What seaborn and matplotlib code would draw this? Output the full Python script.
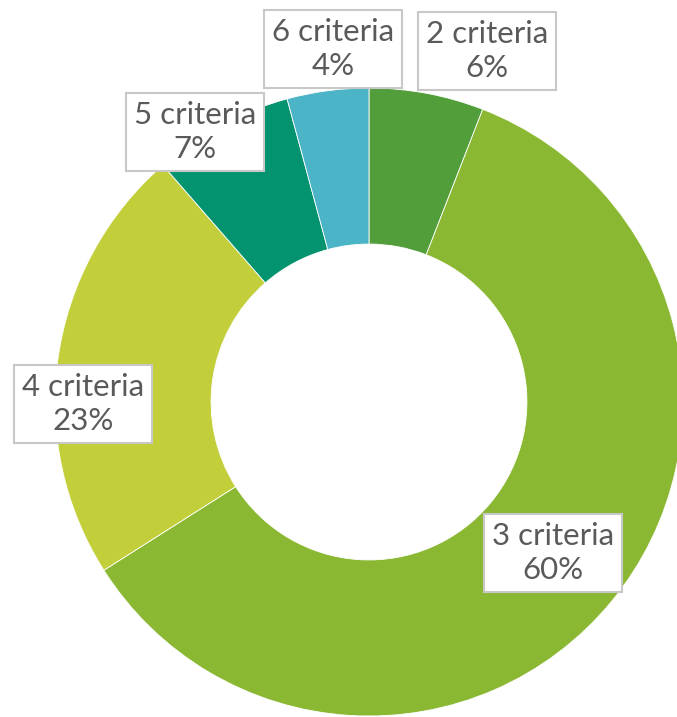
import matplotlib
matplotlib.use("Agg")
import matplotlib.pyplot as plt
import seaborn as sns

# ---- data ----
categories = ["2 criteria", "3 criteria", "4 criteria", "5 criteria", "6 criteria"]
shares = [5.9, 60.1, 22.6, 7.2, 4.2]  # percent
colors = ["#529E3A", "#8AB833", "#C2CF3A", "#03946F", "#4BB4C6"]

sns.set_theme(style="white")
plt.rcParams["font.family"] = ["Lato", "DejaVu Sans"]

W, H = 677, 717
fig = plt.figure(figsize=(W / 100, H / 100), dpi=100)
ax = fig.add_axes([0, 0, 1, 1])

cx, cy, R = 369, 402, 314  # layout in pixels
ax.pie(shares, colors=colors, startangle=90, counterclock=False, radius=1.0,
       wedgeprops=dict(width=0.497, edgecolor="white", linewidth=0.6))
ax.set_xlim(-cx / R, (W - cx) / R)
ax.set_ylim(-(H - cy) / R, cy / R)
ax.set_aspect("equal")
ax.axis("off")

# label box centres (pixels)
label_pos = [(487, 51), (553, 553), (83, 404), (195, 132), (333, 49)]
for cat, v, (px, py) in zip(categories, shares, label_pos):
    fig.text(px / W, 1 - py / H, f"{cat}\n{v:.0f}%", ha="center", va="center",
             multialignment="center", fontsize=22.5, color="#5A5A5A",
             linespacing=1.25,
             bbox=dict(boxstyle="square,pad=0.25", facecolor="white",
                       edgecolor="#C8C8C8", linewidth=1.5))

fig.savefig("out.png", dpi=100)
